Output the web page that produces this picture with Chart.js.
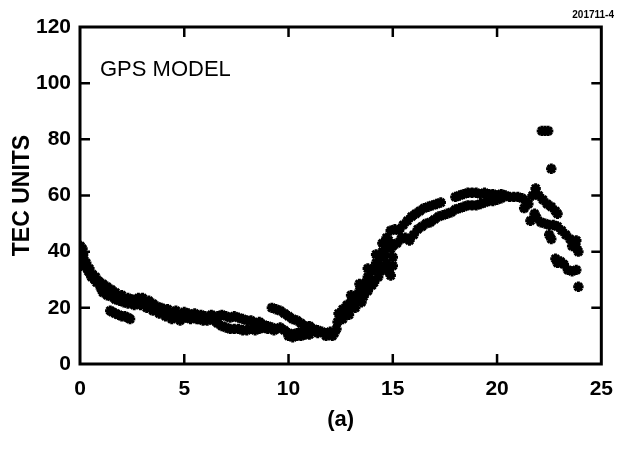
<!DOCTYPE html>
<html>
<head>
<meta charset="utf-8">
<script src="https://cdn.jsdelivr.net/npm/chart.js@4.4.0/dist/chart.umd.min.js"></script>
<style>
  html, body { margin: 0; padding: 0; background: #fff; }
  #wrap { width: 626px; height: 449px; }
</style>
</head>
<body>
<div id="wrap"><canvas id="tecChart" width="626" height="449"></canvas></div>
<script>
// Asse-waarden
const xTicks = [0, 5, 10, 15, 20, 25];
const yTicks = [0, 20, 40, 60, 80, 100, 120];

// Nacht: daling van 0 tot 12.3 uur (bovenste band)
const nightX = [0.02, 0.05, 0.08, 0.1, 0.05, 0.12, 0.15, 0.2, 0.25, 0.3, 0.35, 0.4, 0.45, 0.5, 0.55, 0.6, 0.7, 0.75, 0.8, 0.9,
  1.0, 1.0, 1.1, 1.2, 1.3, 1.3, 1.4, 1.5, 1.6, 1.7, 1.8, 1.9, 2.0, 2.1, 2.2, 2.3, 2.4, 2.5, 2.6, 2.7,
  2.8, 2.9, 3.0, 3.1, 3.2, 3.3, 3.4, 3.5, 3.6, 3.7, 3.8, 3.9, 4.0, 4.1, 4.2, 4.3, 4.4, 4.5, 4.6, 4.7,
  4.8, 4.9, 5.0, 5.1, 5.2, 5.4, 5.5, 5.6, 5.8, 5.9, 6.0, 6.2, 6.3, 6.5, 6.6, 6.8, 7.0, 7.2, 7.4, 7.6,
  7.8, 8.0, 8.2, 8.4, 8.6, 8.8, 9.0, 9.2, 9.4, 9.6, 9.8, 10.0, 10.2, 10.4, 10.6, 10.8, 11.0, 11.2, 11.4, 11.6,
  11.8, 12.0, 12.2, 12.3];
const nightY = [42, 40, 38, 36, 35, 41, 39, 37, 35, 36, 34, 33, 34, 32, 31, 32, 30, 31, 29, 29.5,
  28, 27, 28.5, 27, 26, 27.5, 25, 26.5, 24.5, 25.5, 24, 23, 24.5, 23, 22.5, 23.5, 22, 23, 21.5, 23,
  23.5, 22, 23.5, 22, 21, 22.5, 20.5, 21.5, 19.5, 20.5, 18.5, 20, 19.5, 18, 19.5, 17, 16, 18.5, 19, 17,
  15.5, 17.5, 18.5, 16.5, 18, 17, 18, 16, 17.5, 15.5, 17, 16.5, 17.5, 16, 17, 17.5, 17, 16.5, 17, 16.5,
  16, 15.5, 15.5, 14.5, 15, 14, 13.5, 13, 12.5, 13, 12, 11, 10.5, 11, 11.5, 12.5, 12, 12.5, 12, 11.5,
  11, 11.5, 11, 12.5];

// Nacht: onderrand van de band, onderste strengen en zijtakken
const lowX = [1.1, 1.3, 1.5, 1.7, 1.9, 2.1, 2.3, 2.6, 2.9, 3.2, 3.5, 3.8, 4.1, 4.5, 5.0, 5.3, 5.7, 6.1, 6.4,
  6.6, 6.8, 7.0, 7.2, 7.4, 7.6, 7.8, 8.0, 8.2, 8.4, 8.6, 8.8, 9.0, 9.3,
  9.2, 9.4, 9.6, 9.8, 10.0, 10.2, 10.4, 10.6, 10.8, 11.0,
  10.0, 10.2, 10.4, 10.6, 10.8, 11.0, 11.4, 11.8, 12.1,
  1.45, 1.55, 1.7, 1.85, 2.0, 2.15, 2.3, 2.4];
const lowY = [25.5, 24.5, 24, 23, 22.5, 22, 21.5, 21, 21, 20, 19, 18, 17, 16.5, 16.5, 16, 16, 15.5, 15.5,
  14.5, 13.5, 13, 12.5, 12.5, 12.5, 12, 12, 12.5, 12, 12.5, 13, 12.5, 12,
  20, 19.5, 19, 18, 17, 16, 15.5, 14.5, 13.5, 13.5,
  10, 9.5, 10, 10, 10.5, 10.5, 11, 10, 10,
  19, 18.5, 18, 17.5, 17, 17, 16.5, 16];

// Ochtend: stijging van 12.3 tot 15 uur
const riseX = [12.35, 12.4, 12.5, 12.6, 12.7, 12.8, 12.9, 13.0, 13.1, 13.2, 13.3, 13.4, 13.5, 13.6, 13.7, 13.8, 13.9, 14.0, 14.1, 14.2,
  14.3, 14.4, 14.5, 14.6, 14.7, 14.8, 14.9, 13.5, 13.8, 14.1, 14.4, 14.7, 15.0, 14.8, 14.9, 15.0,
  12.6, 12.9, 13.2, 13.6, 14.0, 14.3, 14.6, 13.0, 13.4, 13.8, 14.2, 14.5, 14.7];
const riseY = [15, 18, 17, 19.5, 18, 21, 19, 22, 21, 24, 22.5, 26, 25, 28, 29, 31, 30, 33, 34, 36,
  35.5, 38, 40, 39, 42, 44, 41, 22, 26, 29, 33, 36, 38, 33, 31.5, 35,
  16, 17.5, 20, 24, 28, 31, 34, 24.5, 28.5, 34, 39, 43, 45];

// Dag: twee banden tussen 15 en 22 uur
const dayX = [14.9, 15.1, 15.3, 15.5, 15.7, 15.9, 16.1, 16.3, 16.5, 16.7, 16.9, 17.1, 17.3,
  15.0, 15.2, 15.4, 15.6, 15.8, 16.0, 16.2, 16.4, 16.6, 16.8, 17.0, 17.2, 17.4, 17.6, 17.8, 18.0, 18.2, 18.4, 18.6, 18.8,
  19.0, 19.2, 19.4, 19.6, 19.8, 20.0, 20.2,
  18.0, 18.2, 18.4, 18.6, 18.8, 19.0, 19.2, 19.4, 19.6, 19.8, 20.0, 20.2, 20.4, 20.6, 20.8, 21.0, 21.2, 21.4, 21.3, 21.5];
const dayY = [47.5, 48, 47.5, 49.5, 51, 52.5, 53.5, 54.5, 55.5, 56, 56.5, 57, 57.5,
  42, 43, 44.5, 45, 44, 46, 48, 49, 50, 50.5, 51.5, 52.5, 53, 53.5, 54, 55, 55.5, 56, 56.5, 56.5,
  56.5, 57, 57.5, 58, 58, 58.5, 59,
  59.5, 60, 60.5, 61, 61, 61, 60.5, 61, 60.5, 60.5, 60, 60.5, 60, 59.5, 59.5, 59.5, 59, 58, 55.5, 57];

// Avond: piek en daling na 21.5 uur
const eveX = [21.7, 21.85, 22.0, 22.2, 22.4, 22.6, 22.8, 22.9,
  21.6, 21.8, 21.9, 22.1, 22.3, 22.5, 22.7, 22.9, 23.1, 23.3, 23.5, 23.7, 23.8, 23.9, 23.6, 23.8, 22.5, 22.6];
const eveY = [60, 62.5, 60, 58.5, 57, 56, 54.5, 53.5,
  51, 53.5, 52, 50.5, 50, 49.5, 49.5, 49, 47.5, 46, 44.5, 43, 41.5, 40, 42, 44, 46, 44.5];

// Losse punten
const outX = [22.15, 22.3, 22.45, 22.6, 22.8, 22.9, 23.05, 23.2, 23.4, 23.6, 23.8, 23.9];
const outY = [83, 83, 83, 69.5, 37.5, 36, 36.5, 35.5, 33.5, 33, 33.5, 27.5];

// Zet x- en y-lijsten om naar punten
function toPoints(xs, ys) {
    return xs.map((x, i) => ({ x: x, y: ys[i] }));
}

const groups = [[nightX, nightY], [lowX, lowY], [riseX, riseY], [dayX, dayY], [eveX, eveY], [outX, outY]];

const datasets = groups.map(g => ({
    data: toPoints(g[0], g[1]),
    pointStyle: 'star',
    pointRadius: 5.2,
    pointBorderWidth: 3,
    borderColor: '#000',
    backgroundColor: '#000',
    showLine: false
}));

// Kader, naar binnen gerichte streepjes en teksten
const framePlugin = {
    id: 'frame',
    afterDraw(chart) {
        const ctx = chart.ctx;
        const a = chart.chartArea;
        const xs = chart.scales.x;
        const ys = chart.scales.y;
        ctx.save();
        ctx.strokeStyle = '#000';
        ctx.lineWidth = 3;
        ctx.strokeRect(a.left, a.top, a.right - a.left, a.bottom - a.top);
        ctx.lineWidth = 2.5;
        ctx.beginPath();
        xTicks.slice(1, -1).forEach(v => {
            const px = xs.getPixelForValue(v);
            ctx.moveTo(px, a.bottom);
            ctx.lineTo(px, a.bottom - 10);
            ctx.moveTo(px, a.top);
            ctx.lineTo(px, a.top + 10);
        });
        yTicks.slice(1, -1).forEach(v => {
            const py = ys.getPixelForValue(v);
            ctx.moveTo(a.left, py);
            ctx.lineTo(a.left + 10, py);
            ctx.moveTo(a.right, py);
            ctx.lineTo(a.right - 10, py);
        });
        ctx.stroke();

        ctx.fillStyle = '#000';
        ctx.textBaseline = 'alphabetic';
        ctx.font = '22px "Liberation Sans", Arial, sans-serif';
        ctx.textAlign = 'left';
        ctx.fillText('GPS MODEL', a.left + 20, 76);
        ctx.font = 'bold 10px "Liberation Sans", Arial, sans-serif';
        ctx.textAlign = 'right';
        ctx.fillText('201711-4', 614, 18);
        ctx.restore();
    }
};

const ctx = document.getElementById('tecChart').getContext('2d');

const tecChart = new Chart(ctx, {
    type: 'scatter',
    data: { datasets: datasets },
    options: {
        responsive: false,
        animation: false,
        layout: { padding: { left: 0, right: 15, top: 27, bottom: 0 } },
        plugins: {
            legend: { display: false },
            tooltip: { enabled: false }
        },
        scales: {
            x: {
                type: 'linear',
                min: 0,
                max: 25,
                afterBuildTicks: s => { s.ticks = xTicks.map(v => ({ value: v })); },
                afterFit: s => { s.height = 85; },
                grid: { display: false, drawTicks: false },
                border: { display: false },
                ticks: {
                    padding: 13,
                    color: '#000',
                    font: { family: '"Liberation Sans", Arial, sans-serif', size: 21, weight: 'bold' }
                },
                title: {
                    display: true,
                    text: '(a)',
                    color: '#000',
                    padding: { top: 0, bottom: 16 },
                    font: { family: '"Liberation Sans", Arial, sans-serif', size: 22, weight: 'bold' }
                }
            },
            y: {
                type: 'linear',
                min: 0,
                max: 120,
                afterBuildTicks: s => { s.ticks = yTicks.map(v => ({ value: v })); },
                afterFit: s => { s.width = 80; },
                grid: { display: false, drawTicks: false },
                border: { display: false },
                ticks: {
                    padding: 9,
                    color: '#000',
                    font: { family: '"Liberation Sans", Arial, sans-serif', size: 21, weight: 'bold' }
                },
                title: {
                    display: true,
                    text: 'TEC UNITS',
                    color: '#000',
                    padding: { top: 9, bottom: 0 },
                    font: { family: '"Liberation Sans", Arial, sans-serif', size: 23, weight: 'bold' }
                }
            }
        }
    },
    plugins: [framePlugin]
});
</script>
</body>
</html>
